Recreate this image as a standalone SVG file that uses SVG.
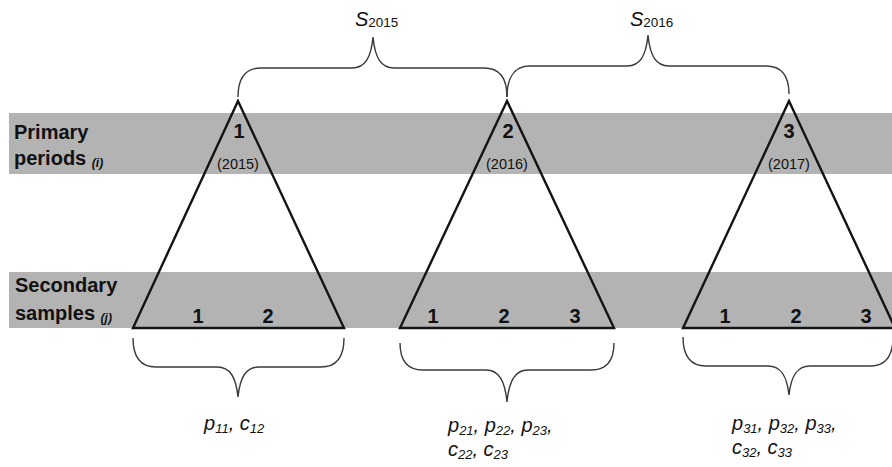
<svg xmlns="http://www.w3.org/2000/svg" width="892" height="467" viewBox="0 0 892 467">
  <style>
    .band { fill: #b3b3b3; }
    .tri { fill: none; stroke: #141414; stroke-width: 2.4; stroke-linejoin: miter; }
    .brace { fill: none; stroke: #3a3a3a; stroke-width: 1.4; }
    .hdr { font-family: "Liberation Sans", Arial, sans-serif; font-weight: bold; font-size: 20px; fill: #111; }
    .hdr .idx { font-size: 12px; font-style: italic; }
    .num { font-family: "Liberation Sans", Arial, sans-serif; font-weight: bold; font-size: 20px; fill: #111; text-anchor: middle; }
    .yr { font-family: "Liberation Sans", Arial, sans-serif; font-size: 14.5px; fill: #111; text-anchor: middle; }
    .var { font-family: "Liberation Sans", Arial, sans-serif; font-style: italic; font-size: 20px; fill: #111; }
    .var .sub { font-size: 13px; }
    .s { font-family: "Liberation Sans", Arial, sans-serif; font-size: 20px; fill: #111; }
    .s .sub { font-size: 13.5px; font-style: normal; }
  </style>

  <rect width="892" height="467" fill="#ffffff"/>

  <!-- shaded bands for the two sampling levels -->
  <g id="bands">
    <rect class="band" x="9" y="113" width="883" height="61"/>
    <rect class="band" x="9" y="272" width="883" height="56"/>
  </g>

  <!-- row headers -->
  <g id="row-labels">
    <text class="hdr" x="14" y="139">Primary</text>
    <text class="hdr" x="14" y="165">periods <tspan class="idx" dy="2">(i)</tspan></text>
    <text class="hdr" x="15" y="292">Secondary</text>
    <text class="hdr" x="15" y="320">samples <tspan class="idx" dy="2">(j)</tspan></text>
  </g>

  <!-- primary period 1 -->
  <g id="period-2015">
    <polygon class="tri" points="238,101 133,328 344,328"/>
    <text class="num" x="239" y="138">1</text>
    <text class="yr" x="238" y="169">(2015)</text>
    <text class="num" x="198" y="323">1</text>
    <text class="num" x="268" y="323">2</text>
  </g>

  <!-- primary period 2 -->
  <g id="period-2016">
    <polygon class="tri" points="507,101 400,328 614,328"/>
    <text class="num" x="508" y="138">2</text>
    <text class="yr" x="507" y="169">(2016)</text>
    <text class="num" x="433" y="323">1</text>
    <text class="num" x="504" y="323">2</text>
    <text class="num" x="575" y="323">3</text>
  </g>

  <!-- primary period 3 -->
  <g id="period-2017">
    <polygon class="tri" points="789,101 683,328 895,328"/>
    <text class="num" x="789" y="138">3</text>
    <text class="yr" x="789" y="169">(2017)</text>
    <text class="num" x="725" y="323">1</text>
    <text class="num" x="796" y="323">2</text>
    <text class="num" x="866" y="323">3</text>
  </g>

  <!-- braces: survival between periods (top) and per-period parameters (bottom) -->
  <g id="connectors">
    <path class="brace" d="M238,97 C238,80 244,68 261,68 L352,68 C365,68 371,58 373,37 C375,58 381,68 394,68 L484,68 C501,68 507,80 507,97"/>
    <path class="brace" d="M507,97 C507,80 513,66 530,66 L627,66 C640,66 646,56 648,35 C650,56 656,66 669,66 L766,66 C783,66 789,78 789,94"/>
    <path class="brace" d="M133,338 C133,355 139,367 156,367 L217,367 C230,367 236,377 238,397 C240,377 246,367 259,367 L321,367 C338,367 344,355 344,338"/>
    <path class="brace" d="M400,343 C400,359 406,370 423,370 L486,370 C499,370 505,381 507,402 C509,381 515,370 528,370 L591,370 C608,370 614,359 614,343"/>
    <path class="brace" d="M683,337 C683,354 689,366 706,366 L768,366 C781,366 787,376 789,395 C791,376 797,366 810,366 L870,366 C887,366 893,354 893,337"/>
  </g>

  <!-- survival labels -->
  <g id="survival-labels">
    <text class="s" x="355" y="26"><tspan font-style="italic">S</tspan><tspan class="sub" dy="1">2015</tspan></text>
    <text class="s" x="630" y="26"><tspan font-style="italic">S</tspan><tspan class="sub" dy="1">2016</tspan></text>
  </g>

  <!-- parameter labels -->
  <g id="parameter-labels">
    <text class="var" x="204" y="430">p<tspan class="sub" dy="3">11</tspan><tspan dy="-3">, c</tspan><tspan class="sub" dy="3">12</tspan></text>
    <text class="var" x="448" y="432">p<tspan class="sub" dy="3">21</tspan><tspan dy="-3">, p</tspan><tspan class="sub" dy="3">22</tspan><tspan dy="-3">, p</tspan><tspan class="sub" dy="3">23</tspan><tspan dy="-3">,</tspan></text>
    <text class="var" x="448" y="456">c<tspan class="sub" dy="3">22</tspan><tspan dy="-3">, c</tspan><tspan class="sub" dy="3">23</tspan></text>
    <text class="var" x="732" y="430">p<tspan class="sub" dy="3">31</tspan><tspan dy="-3">, p</tspan><tspan class="sub" dy="3">32</tspan><tspan dy="-3">, p</tspan><tspan class="sub" dy="3">33</tspan><tspan dy="-3">,</tspan></text>
    <text class="var" x="732" y="454">c<tspan class="sub" dy="3">32</tspan><tspan dy="-3">, c</tspan><tspan class="sub" dy="3">33</tspan></text>
  </g>
</svg>
